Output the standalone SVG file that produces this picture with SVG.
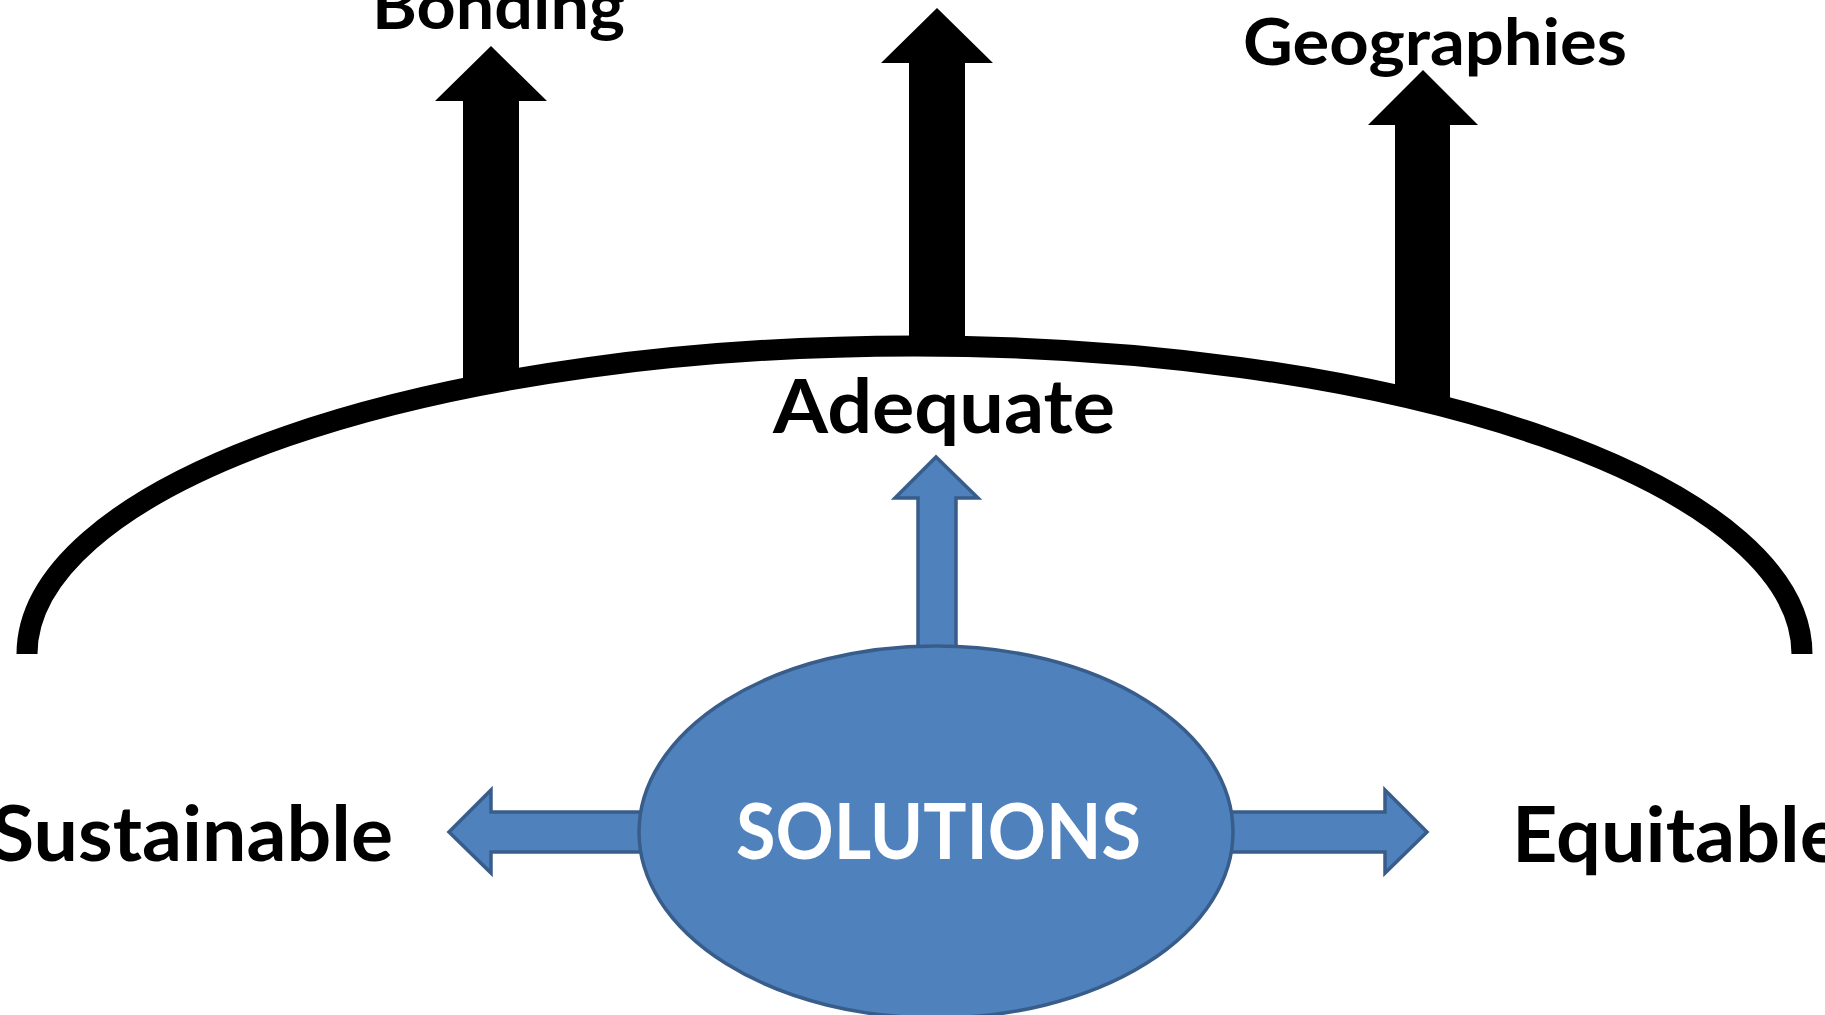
<svg xmlns="http://www.w3.org/2000/svg" width="1825" height="1015" viewBox="0 0 1825 1015">
<style>
.lbl{font-family:Lato,"Open Sans","Liberation Sans",sans-serif;font-weight:700;fill:#000}
.blk{fill:#000}
.blue{fill:#4F81BD;stroke:#385D8A;stroke-width:3.5;stroke-linejoin:miter}
</style>
<rect width="1825" height="1015" fill="#fff"/>
<g id="connectors">
<polygon class="blk" points="463,382 463,101 435,101 491,46 547,101 519,101 519,376"/>
<polygon class="blk" points="909,346 909,63 881,63 937,8 993,63 965,63 965,346"/>
<polygon class="blk" points="1395,395 1395,125 1368,125 1423,70 1478,125 1450,125 1450,404"/>
<path d="M 27 654 A 887 308 0 0 1 1802 654" fill="none" stroke="#000" stroke-width="21"/>
<polygon class="blue" points="918,660 918,498 895,498 936,457 978,498 956,498 956,660"/>
<polygon class="blue" points="660,812 491,812 491,790 449,832 491,873 491,852 660,852"/>
<polygon class="blue" points="1215,812 1385,812 1385,790 1427,832 1385,873 1385,852 1215,852"/>
</g>
<g id="solutions">
<ellipse class="blue" cx="936" cy="832" rx="297" ry="186"/>
<text class="lbl" x="736" y="859" font-size="76" textLength="405" lengthAdjust="spacingAndGlyphs" style="fill:#fff">SOLUTIONS</text>
</g>
<g id="bonding"><text class="lbl" x="372" y="29" font-size="65" textLength="253" lengthAdjust="spacingAndGlyphs">Bonding</text></g>
<g id="geographies"><text class="lbl" x="1243" y="65" font-size="65" textLength="384" lengthAdjust="spacingAndGlyphs">Geographies</text></g>
<g id="adequate"><text class="lbl" x="773" y="433" font-size="74" textLength="342" lengthAdjust="spacingAndGlyphs">Adequate</text></g>
<g id="sustainable"><text class="lbl" x="-9" y="861" font-size="76" textLength="402" lengthAdjust="spacingAndGlyphs">Sustainable</text></g>
<g id="equitable"><text class="lbl" x="1512" y="862" font-size="76" textLength="330" lengthAdjust="spacingAndGlyphs">Equitable</text></g>
</svg>
